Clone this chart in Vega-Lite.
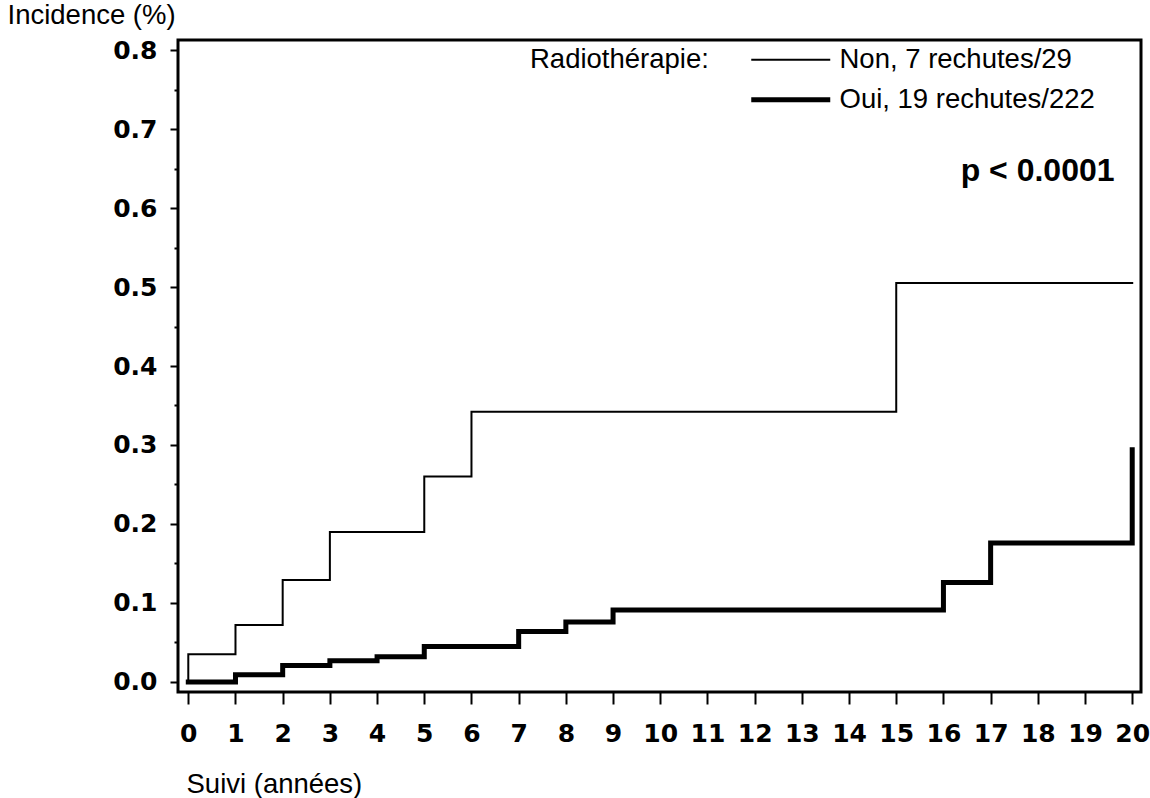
{
  "$schema": "https://vega.github.io/schema/vega-lite/v6.json",
  "width": 963,
  "height": 652,
  "autosize": "none",
  "padding": {"left": 178, "top": 40, "right": 9, "bottom": 106},
  "background": "white",
  "config": {
    "view": {"stroke": "black", "strokeWidth": 3},
    "axis": {"domain": false, "grid": false, "tickColor": "black", "tickWidth": 2, "labelColor": "black", "titleColor": "black"}
  },
  "encoding": {
    "x": {
      "field": "t", "type": "quantitative",
      "scale": {"domain": [-0.218, 20.186], "nice": false, "zero": false},
      "axis": {
        "values": [0,0.5,1,1.5,2,2.5,3,3.5,4,4.5,5,5.5,6,6.5,7,7.5,8,8.5,9,9.5,10,10.5,11,11.5,12,12.5,13,13.5,14,14.5,15,15.5,16,16.5,17,17.5,18,18.5,19,19.5,20],
        "format": "d",
        "labelExpr": "datum.value % 1 === 0 ? datum.label : ''",
        "tickSize": {"condition": {"test": "datum.value % 1 === 0", "value": 12}, "value": 6},
        "labelFont": "DejaVu Sans", "labelFontWeight": "bold", "labelFontSize": 25,
        "labelPadding": 17, "labelFlush": false, "labelOverlap": false, "labelBaseline": "top",
        "title": "Suivi (années)", "titleFont": "Liberation Sans", "titleFontSize": 27.5, "titleFontWeight": "normal",
        "titleAlign": "left", "titleBaseline": "alphabetic", "titleAnchor": "start", "titleX": 8, "titleY": 100
      }
    },
    "y": {
      "field": "inc", "type": "quantitative",
      "scale": {"domain": [-0.0127, 0.8127], "nice": false, "zero": false},
      "axis": {
        "values": [0,0.05,0.1,0.15,0.2,0.25,0.3,0.35,0.4,0.45,0.5,0.55,0.6,0.65,0.7,0.75,0.8],
        "format": ".1f",
        "labelExpr": "round(datum.value*20) % 2 === 0 ? datum.label : ''",
        "tickSize": {"condition": {"test": "round(datum.value*20) % 2 === 0", "value": 8}, "value": 4},
        "labelFont": "DejaVu Sans", "labelFontWeight": "bold", "labelFontSize": 25,
        "labelPadding": 13, "labelFlush": false, "labelOverlap": false,
        "title": "Incidence (%)", "titleFont": "Liberation Sans", "titleFontSize": 27.5, "titleFontWeight": "normal",
        "titleAngle": 0, "titleAlign": "left", "titleBaseline": "alphabetic", "titleAnchor": "start", "titleX": -171, "titleY": -17
      }
    }
  },
  "layer": [
    {
      "data": {"values": [
        {"grp": "Non, 7 rechutes/29", "i": 0, "t": 0, "inc": 0},
        {"grp": "Non, 7 rechutes/29", "i": 1, "t": 0, "inc": 0.035},
        {"grp": "Non, 7 rechutes/29", "i": 2, "t": 1, "inc": 0.072},
        {"grp": "Non, 7 rechutes/29", "i": 3, "t": 2, "inc": 0.129},
        {"grp": "Non, 7 rechutes/29", "i": 4, "t": 3, "inc": 0.19},
        {"grp": "Non, 7 rechutes/29", "i": 5, "t": 5, "inc": 0.26},
        {"grp": "Non, 7 rechutes/29", "i": 6, "t": 6, "inc": 0.342},
        {"grp": "Non, 7 rechutes/29", "i": 7, "t": 15, "inc": 0.505},
        {"grp": "Non, 7 rechutes/29", "i": 8, "t": 20, "inc": 0.505},
        {"grp": "Oui, 19 rechutes/222", "i": 0, "t": 0, "inc": 0},
        {"grp": "Oui, 19 rechutes/222", "i": 1, "t": 1, "inc": 0.009},
        {"grp": "Oui, 19 rechutes/222", "i": 2, "t": 2, "inc": 0.021},
        {"grp": "Oui, 19 rechutes/222", "i": 3, "t": 3, "inc": 0.027},
        {"grp": "Oui, 19 rechutes/222", "i": 4, "t": 4, "inc": 0.032},
        {"grp": "Oui, 19 rechutes/222", "i": 5, "t": 5, "inc": 0.045},
        {"grp": "Oui, 19 rechutes/222", "i": 6, "t": 7, "inc": 0.064},
        {"grp": "Oui, 19 rechutes/222", "i": 7, "t": 8, "inc": 0.076},
        {"grp": "Oui, 19 rechutes/222", "i": 8, "t": 9, "inc": 0.091},
        {"grp": "Oui, 19 rechutes/222", "i": 9, "t": 16, "inc": 0.126},
        {"grp": "Oui, 19 rechutes/222", "i": 10, "t": 17, "inc": 0.176},
        {"grp": "Oui, 19 rechutes/222", "i": 11, "t": 20, "inc": 0.176},
        {"grp": "Oui, 19 rechutes/222", "i": 12, "t": 20, "inc": 0.294}
      ]},
      "mark": {"type": "line", "interpolate": "step-after", "color": "black", "strokeCap": "square", "strokeJoin": "miter"},
      "encoding": {
        "detail": {"field": "grp"},
        "order": {"field": "i", "type": "quantitative"},
        "strokeWidth": {
          "field": "grp", "type": "ordinal",
          "scale": {"domain": ["Non, 7 rechutes/29", "Oui, 19 rechutes/222"], "range": [2, 5]},
          "legend": {
            "orient": "none", "legendX": 352, "legendY": 6, "direction": "vertical", "padding": 0,
            "title": "Radiothérapie:", "titleOrient": "left", "titleAnchor": "start", "titleFont": "Liberation Sans", "titleFontSize": 27.5,
            "titleFontWeight": "normal", "titleColor": "black", "titlePadding": 68, "titleBaseline": "top",
            "labelFont": "Liberation Sans", "labelFontSize": 27.5, "labelColor": "black", "labelOffset": 35, "labelLimit": 500,
            "symbolType": "M-7.9,0H7.9", "symbolSize": 100, "symbolStrokeColor": "black", "symbolFillColor": "transparent",
            "rowPadding": 11
          }
        }
      }
    },
    {
      "data": {"values": [{"t": 19.625, "inc": 0.634, "label": "p < 0.0001"}]},
      "mark": {"type": "text", "align": "right", "baseline": "alphabetic", "font": "Liberation Sans", "fontWeight": "bold", "fontSize": 32, "color": "black"},
      "encoding": {"text": {"field": "label"}}
    }
  ]
}
